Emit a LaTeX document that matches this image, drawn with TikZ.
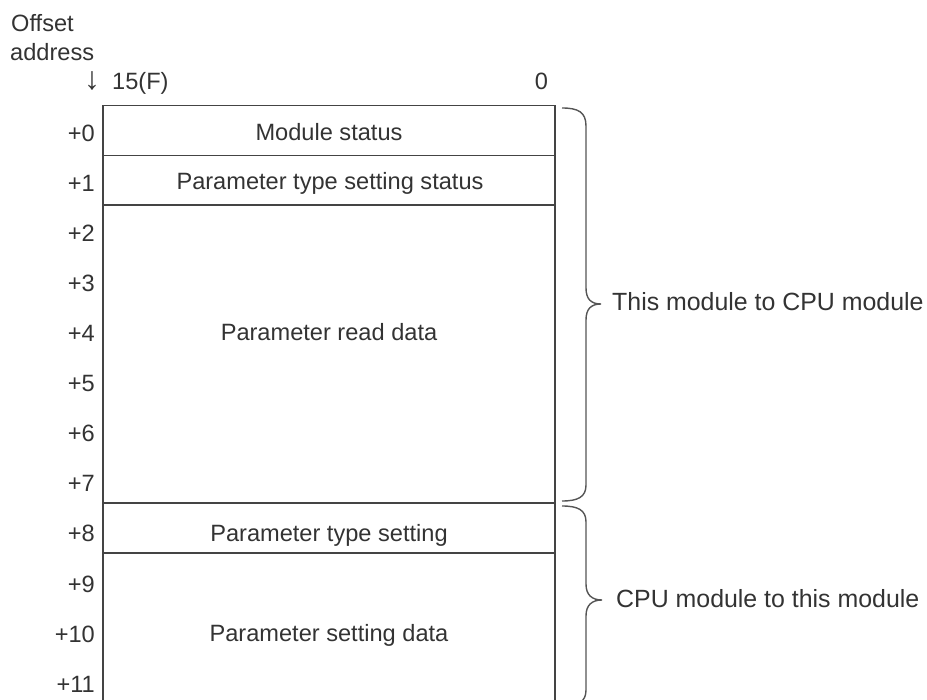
\documentclass[tikz,border=0pt]{standalone}
\usepackage{fontspec}
\setmainfont{Liberation Sans}
\definecolor{ink}{HTML}{333333}
\definecolor{rule}{HTML}{444444}
\definecolor{brc}{HTML}{555555}
\begin{document}
\begin{tikzpicture}[x=1pt,y=-1pt,
  font=\fontsize{23.6}{28}\selectfont,
  txt/.style={text=ink, inner sep=0pt},
  side/.style={txt, anchor=base west, font=\fontsize{24.9}{29}\selectfont},
  idx/.style={txt, anchor=base east},
  fld/.style={draw=rule, line width=1.2pt, minimum width=452pt, inner sep=0pt},
  brace/.style={draw=brc, line width=1.4pt}]
\useasboundingbox (0,0) rectangle (927,700);
\clip (0,0) rectangle (927,700);
% header
\node[txt, anchor=base west] (off) at (11,32) {Offset};
\node[txt, anchor=base west] (adr) at (10,61) {address};
\node[txt, anchor=base west] (arr) at (84,90) {\scalebox{1.35}{↓}};
\node[txt, anchor=base west] (msb) at (112,90) {15(F)};
\node[txt, anchor=base] (lsb) at (541.5,90) {0};
% fields
\node[fld, minimum height=50pt] (f0) at (329,130.5) {};
\node[fld, minimum height=49.5pt] (f1) at (329,180.25) {};
\node[fld, minimum height=298pt] (f2) at (329,354) {};
\node[fld, minimum height=50pt] (f3) at (329,528) {};
\node[fld, minimum height=150pt] (f4) at (329,628) {};
% field texts
\node[txt, anchor=base] (t0) at (329,141) {Module status};
\node[txt, anchor=base] (t1) at (330,190) {Parameter type setting status};
\node[txt, anchor=base] (t2) at (329,341) {Parameter read data};
\node[txt, anchor=base] (t3) at (329,541) {Parameter type setting};
\node[txt, anchor=base] (t4) at (329,641) {Parameter setting data};
% offsets
\foreach \i in {0,...,11}{
  \node[idx] (o\i) at (95,142+50*\i) {+\i};
}
% braces
\coordinate (b1s) at (562,108);
\coordinate (b1t) at (601,304);
\coordinate (b1e) at (562,501);
\draw[brace] (b1s) .. controls (578,108) and (586,112) .. (586,126)
  -- (586,288) .. controls (586,299) and (591,304) .. (b1t)
  .. controls (591,304) and (586,309) .. (586,320)
  -- (586,485) .. controls (586,497) and (578,501) .. (b1e);
\coordinate (b2s) at (562,506);
\coordinate (b2t) at (602,600);
\coordinate (b2e) at (562,706);
\draw[brace] (b2s) .. controls (578,506) and (586,510) .. (586,522)
  -- (586,584) .. controls (586,595) and (592,600) .. (b2t)
  .. controls (592,600) and (586,605) .. (586,616)
  -- (586,690) .. controls (586,702) and (578,706) .. (b2e);
\node[side] (r1) at (612,311) {This module to CPU module};
\node[side] (r2) at (616,607) {CPU module to this module};
\end{tikzpicture}
\end{document}
